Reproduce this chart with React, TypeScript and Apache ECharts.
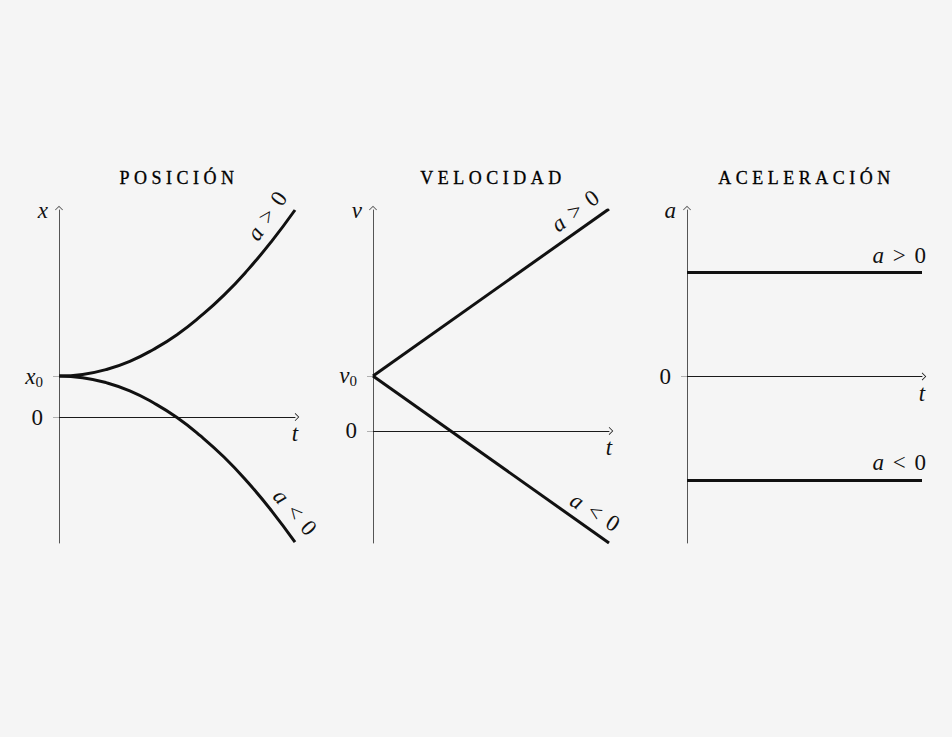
import React, { useEffect, useRef } from "react";
import * as echarts from "echarts";

const FONT = "Liberation Serif, DejaVu Serif, serif";
const INK = "#111111";

const TITLES = ["posición", "velocidad", "aceleración"];

// Posición
const posT = [0, 0.1, 0.2, 0.3, 0.4, 0.5, 0.6, 0.7, 0.8, 0.9, 1.0];
const posUp = [1, 1.04, 1.16, 1.36, 1.65, 2.01, 2.46, 2.98, 3.59, 4.28, 5.05];
const posDown = [1, 0.96, 0.84, 0.64, 0.35, -0.01, -0.46, -0.98, -1.59, -2.28, -3.05];
const posRange = [-3.07, 5.05];

// Velocidad
const velT = [0, 1];
const velUp = [1, 4.04];
const velDown = [1, -2.04];
const velRange = [-2.04, 4.02];

// Aceleración
const accT = [0, 1];
const accUp = [1, 1];
const accDown = [-1, -1];
const accRange = [-1.6, 1.6];

const yTicks = [[0, 1], [0, 1], [0]];
const yTickLabels = [["0", "{i|x}{s|0}"], ["0", "{i|v}{s|0}"], ["0"]];
const yNames = ["x", "v", "a"];
const xName = "t";

const CHEVRON = "path://M0,0 L5,5 L4.2,5.6 L0,1.4 L-4.2,5.6 L-5,5 Z";

const baseRich = {
  i: { fontFamily: FONT, fontStyle: "italic", fontSize: 23, color: INK },
  s: { fontFamily: FONT, fontSize: 15, color: INK, padding: [11, 0, 0, 0] },
};

export default function App() {
  const ref = useRef<HTMLDivElement>(null);
  useEffect(() => {
    const el = ref.current!;
    const chart = echarts.init(el, null, { renderer: "svg" });
    const grids = [
      { left: 59, top: 210, width: 236, height: 333 },
      { left: 373, top: 210, width: 236, height: 333 },
      { left: 687, top: 210, width: 235, height: 333 },
    ];
    const ranges = [posRange, velRange, accRange];
    const xAxis = grids.map((_, i) => ({
      type: "value",
      gridIndex: i,
      min: 0,
      max: 1,
      axisLine: {
        show: true,
        onZero: true,
        lineStyle: { color: "#1a1a1a", width: 1 },
        symbol: ["none", CHEVRON],
        symbolSize: [8, 5],
        symbolOffset: [0, 2],
      },
      axisTick: { show: false },
      axisLabel: { show: false },
      splitLine: { show: false },
      name: xName,
      nameLocation: "end",
      nameGap: 0,
      nameTextStyle: {
        fontFamily: FONT,
        fontStyle: "italic",
        fontSize: 23,
        color: INK,
        align: "center",
        verticalAlign: "top",
        padding: [5, 0, 0, 0],
      },
    }));
    const yAxis = grids.map((_, i) => ({
      type: "value",
      gridIndex: i,
      min: ranges[i][0],
      max: ranges[i][1],
      axisLine: {
        show: true,
        onZero: false,
        lineStyle: { color: "#555555", width: 1 },
        symbol: ["none", CHEVRON],
        symbolSize: [8, 5],
        symbolOffset: [0, 2],
      },
      axisTick: {
        show: true,
        customValues: yTicks[i],
        length: 6,
        lineStyle: { color: "#b0b0b0", width: 1 },
      },
      axisLabel: {
        show: true,
        customValues: yTicks[i],
        margin: 16,
        fontFamily: FONT,
        fontSize: 23,
        color: INK,
        formatter: (v: number) => {
          const idx = yTicks[i].indexOf(v);
          return idx >= 0 ? yTickLabels[i][idx] : "";
        },
        rich: baseRich,
      },
      splitLine: { show: false },
      name: yNames[i],
      nameLocation: "end",
      nameGap: 0,
      nameTextStyle: {
        fontFamily: FONT,
        fontStyle: "italic",
        fontSize: 23,
        color: INK,
        align: "right",
        verticalAlign: "middle",
        padding: [0, 11, 0, 0],
      },
    }));
    const lineStyle = { color: INK, width: 3 };
    const mk = (xs: number[], ys: number[]) => xs.map((x, k) => [x, ys[k]]);
    const series = [
      { xi: 0, data: mk(posT, posUp), smooth: true },
      { xi: 0, data: mk(posT, posDown), smooth: true },
      { xi: 1, data: mk(velT, velUp), smooth: false },
      { xi: 1, data: mk(velT, velDown), smooth: false },
      { xi: 2, data: mk(accT, accUp), smooth: false },
      { xi: 2, data: mk(accT, accDown), smooth: false },
    ].map((s) => ({
      type: "line",
      xAxisIndex: s.xi,
      yAxisIndex: s.xi,
      data: s.data,
      smooth: s.smooth,
      showSymbol: false,
      symbol: "none",
      lineStyle,
      silent: true,
      z: 5,
    }));
    const titleCenters = grids.map((g) => g.left + g.width / 2);
    chart.setOption({
      animation: false,
      backgroundColor: "#f5f5f5",
      grid: grids,
      xAxis,
      yAxis,
      series,
      graphic: TITLES.map((t, i) => ({
        type: "text",
        id: "title" + i,
        x: titleCenters[i] + 2,
        y: 175,
        silent: true,
        style: {
          text: t,
          font: `small-caps 25px ${FONT}`,
          fill: "#000000",
          stroke: "#000000",
          lineWidth: 0.3,
          textAlign: "center",
          textVerticalAlign: "middle",
        },
      })),
    });

    // curve labels positioned from data end points
    const labelRich = {
      i: { fontFamily: FONT, fontStyle: "italic", fontSize: 23, fill: INK },
      m: { fontFamily: FONT, fontSize: 23, fill: INK, padding: [0, 3, 0, 3] },
      d: { fontFamily: FONT, fontSize: 23, fill: INK },
    };
    const endPx = (gi: number, x: number, y: number) =>
      chart.convertToPixel({ gridIndex: gi } as any, [x, y]) as number[];
    const labels = [
      { gi: 0, p: [posT[posT.length - 1], posUp[posUp.length - 1]], off: [-28, 6], rot: 56, txt: "{i|a}{m| > }{d|0}", align: "center" },
      { gi: 0, p: [posT[posT.length - 1], posDown[posDown.length - 1]], off: [0, -30], rot: -49, txt: "{i|a}{m| < }{d|0}", align: "center" },
      { gi: 1, p: [velT[1], velUp[1]], off: [-34, 2], rot: 37, txt: "{i|a}{m| > }{d|0}", align: "center" },
      { gi: 1, p: [velT[1], velDown[1]], off: [-14, -31], rot: -32, txt: "{i|a}{m| < }{d|0}", align: "center" },
      { gi: 2, p: [accT[1], accUp[1]], off: [4, -17], rot: 0, txt: "{i|a}{m| > }{d|0}", align: "right" },
      { gi: 2, p: [accT[1], accDown[1]], off: [4, -18], rot: 0, txt: "{i|a}{m| < }{d|0}", align: "right" },
    ];
    const graphics = labels.map((l, k) => {
      const e = endPx(l.gi, l.p[0], l.p[1]);
      return {
        type: "text",
        id: "lab" + k,
        x: e[0] + l.off[0],
        y: e[1] + l.off[1],
        rotation: (l.rot * Math.PI) / 180,
        silent: true,
        style: {
          text: l.txt,
          rich: labelRich,
          fill: INK,
          textAlign: l.align,
          textVerticalAlign: "middle",
        },
      };
    });
    chart.setOption({ graphic: graphics });

    // letter spacing for small-caps titles
    el.querySelectorAll("text").forEach((t) => {
      if (TITLES.includes((t.textContent || "").trim())) {
        t.setAttribute("letter-spacing", "4.5");
      }
    });

    return () => chart.dispose();
  }, []);
  return (
    <div
      ref={ref}
      style={{ position: "fixed", left: 0, top: 0, width: 952, height: 737 }}
    />
  );
}
